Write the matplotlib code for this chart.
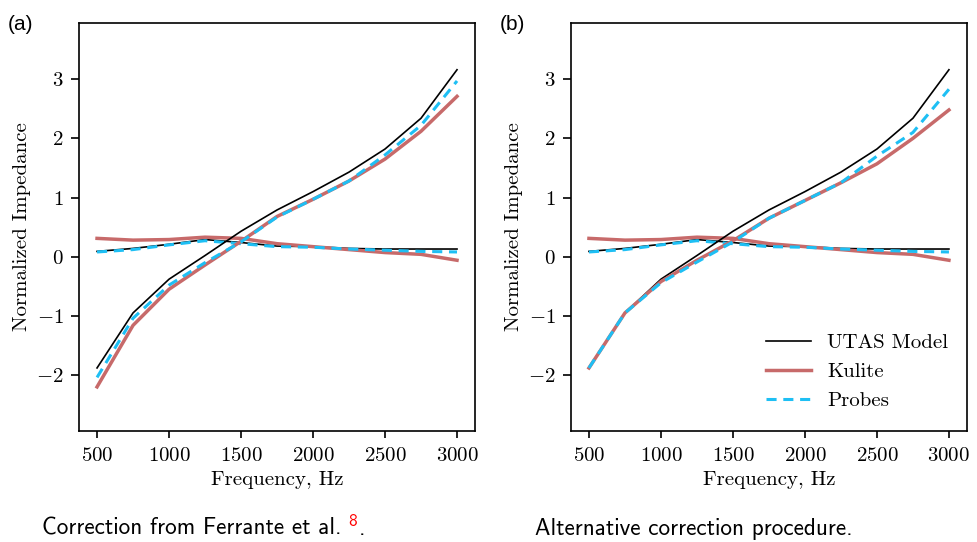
import matplotlib
matplotlib.use("Agg")
import matplotlib.pyplot as plt
import numpy as np

plt.rcParams['font.family'] = 'serif'
plt.rcParams['font.serif'] = ['cmr10']
plt.rcParams['mathtext.fontset'] = 'cm'
plt.rcParams['axes.formatter.use_mathtext'] = True
plt.rcParams['axes.unicode_minus'] = True

freq = [500, 750, 1000, 1250, 1500, 1750, 2000, 2250, 2500, 2750, 3000]

# UTAS model (same in both panels)
utas_re = [0.09, 0.14, 0.21, 0.29, 0.24, 0.18, 0.17, 0.14, 0.13, 0.13, 0.13]
utas_im = [-1.88, -0.95, -0.38, 0.02, 0.43, 0.79, 1.10, 1.43, 1.82, 2.34, 3.16]

# Panel (a): correction from Ferrante et al.
kulite_re_a = [0.31, 0.28, 0.29, 0.33, 0.31, 0.22, 0.17, 0.12, 0.07, 0.04, -0.06]
kulite_im_a = [-2.20, -1.16, -0.55, -0.14, 0.26, 0.68, 0.97, 1.28, 1.65, 2.12, 2.71]
probes_re_a = [0.08, 0.12, 0.20, 0.27, 0.22, 0.17, 0.16, 0.13, 0.11, 0.09, 0.08]
probes_im_a = [-2.04, -1.04, -0.48, -0.10, 0.25, 0.67, 0.97, 1.28, 1.72, 2.22, 2.97]

# Panel (b): alternative correction procedure
kulite_re_b = [0.31, 0.28, 0.29, 0.33, 0.31, 0.22, 0.17, 0.12, 0.07, 0.04, -0.06]
kulite_im_b = [-1.88, -0.95, -0.42, -0.06, 0.27, 0.65, 0.95, 1.25, 1.57, 2.00, 2.48]
probes_re_b = [0.08, 0.12, 0.20, 0.27, 0.22, 0.17, 0.16, 0.13, 0.11, 0.09, 0.08]
probes_im_b = [-1.88, -0.95, -0.44, -0.09, 0.25, 0.65, 0.95, 1.25, 1.70, 2.10, 2.83]

xticks = [500, 1000, 1500, 2000, 2500, 3000]
yticks = [-2, -1, 0, 1, 2, 3]

C_UTAS = 'black'
C_KUL = '#C76A6A'
C_PRB = '#1EBFF4'
DASH = (0, (3.3, 2.2))

fig = plt.figure(figsize=(9.77, 5.42), dpi=100)
axA = fig.add_axes([0.0809, 0.2054, 0.4053, 0.7522])
axB = fig.add_axes([0.5844, 0.2054, 0.4053, 0.7522])

panels = [
    (axA, kulite_re_a, kulite_im_a, probes_re_a, probes_im_a),
    (axB, kulite_re_b, kulite_im_b, probes_re_b, probes_im_b),
]

for ax, kre, kim, pre, pim in panels:
    ax.plot(freq, utas_re, color=C_UTAS, lw=1.2, label='UTAS Model')
    ax.plot(freq, kre, color=C_KUL, lw=2.5, label='Kulite')
    ax.plot(freq, pre, color=C_PRB, lw=2.2, ls=DASH, label='Probes')
    ax.plot(freq, utas_im, color=C_UTAS, lw=1.2)
    ax.plot(freq, kim, color=C_KUL, lw=2.5)
    ax.plot(freq, pim, color=C_PRB, lw=2.2, ls=DASH)
    ax.set_xlim(375, 3125)
    ax.set_ylim(-2.94, 3.95)
    ax.set_xticks(xticks)
    ax.set_yticks(yticks)
    ax.tick_params(axis='x', labelsize=15, length=5, width=1.2, pad=7)
    ax.tick_params(axis='y', labelsize=15, length=5.5, width=1.2, pad=5.5)
    for s in ax.spines.values():
        s.set_linewidth(1.2)
    ax.set_xlabel('Frequency, Hz', fontsize=15, labelpad=4)
    ax.set_ylabel('Normalized Impedance', fontsize=15)

leg = axB.legend(loc='lower right', fontsize=15, frameon=False,
                 handlelength=2.15, bbox_to_anchor=(1.0, 0.005))

fig.text(0.008, 0.955, '(a)', fontsize=15, family='Liberation Sans', ha='left', va='center')
fig.text(0.512, 0.955, '(b)', fontsize=15, family='Liberation Sans', ha='left', va='center')

t1 = fig.text(0.0427, 0.013, 'Correction from Ferrante et al.', fontsize=16.7,
              family='cmss10', ha='left', va='baseline')
fig.canvas.draw()
bb = t1.get_window_extent()
x_end = fig.transFigure.inverted().transform((bb.x1, bb.y0))[0]
t2 = fig.text(x_end + 0.007, 0.029, '8', fontsize=12.5, color='red', family='cmss10',
              ha='left', va='baseline')
fig.canvas.draw()
bb2 = t2.get_window_extent()
x_end2 = fig.transFigure.inverted().transform((bb2.x1, bb2.y0))[0]
fig.text(x_end2 + 0.002, 0.013, '.', fontsize=16.7, family='cmss10', ha='left', va='baseline')

fig.text(0.5476, 0.013, 'Alternative correction procedure.', fontsize=16.7,
         family='cmss10', ha='left', va='baseline')

fig.savefig('out.png', dpi=100)
